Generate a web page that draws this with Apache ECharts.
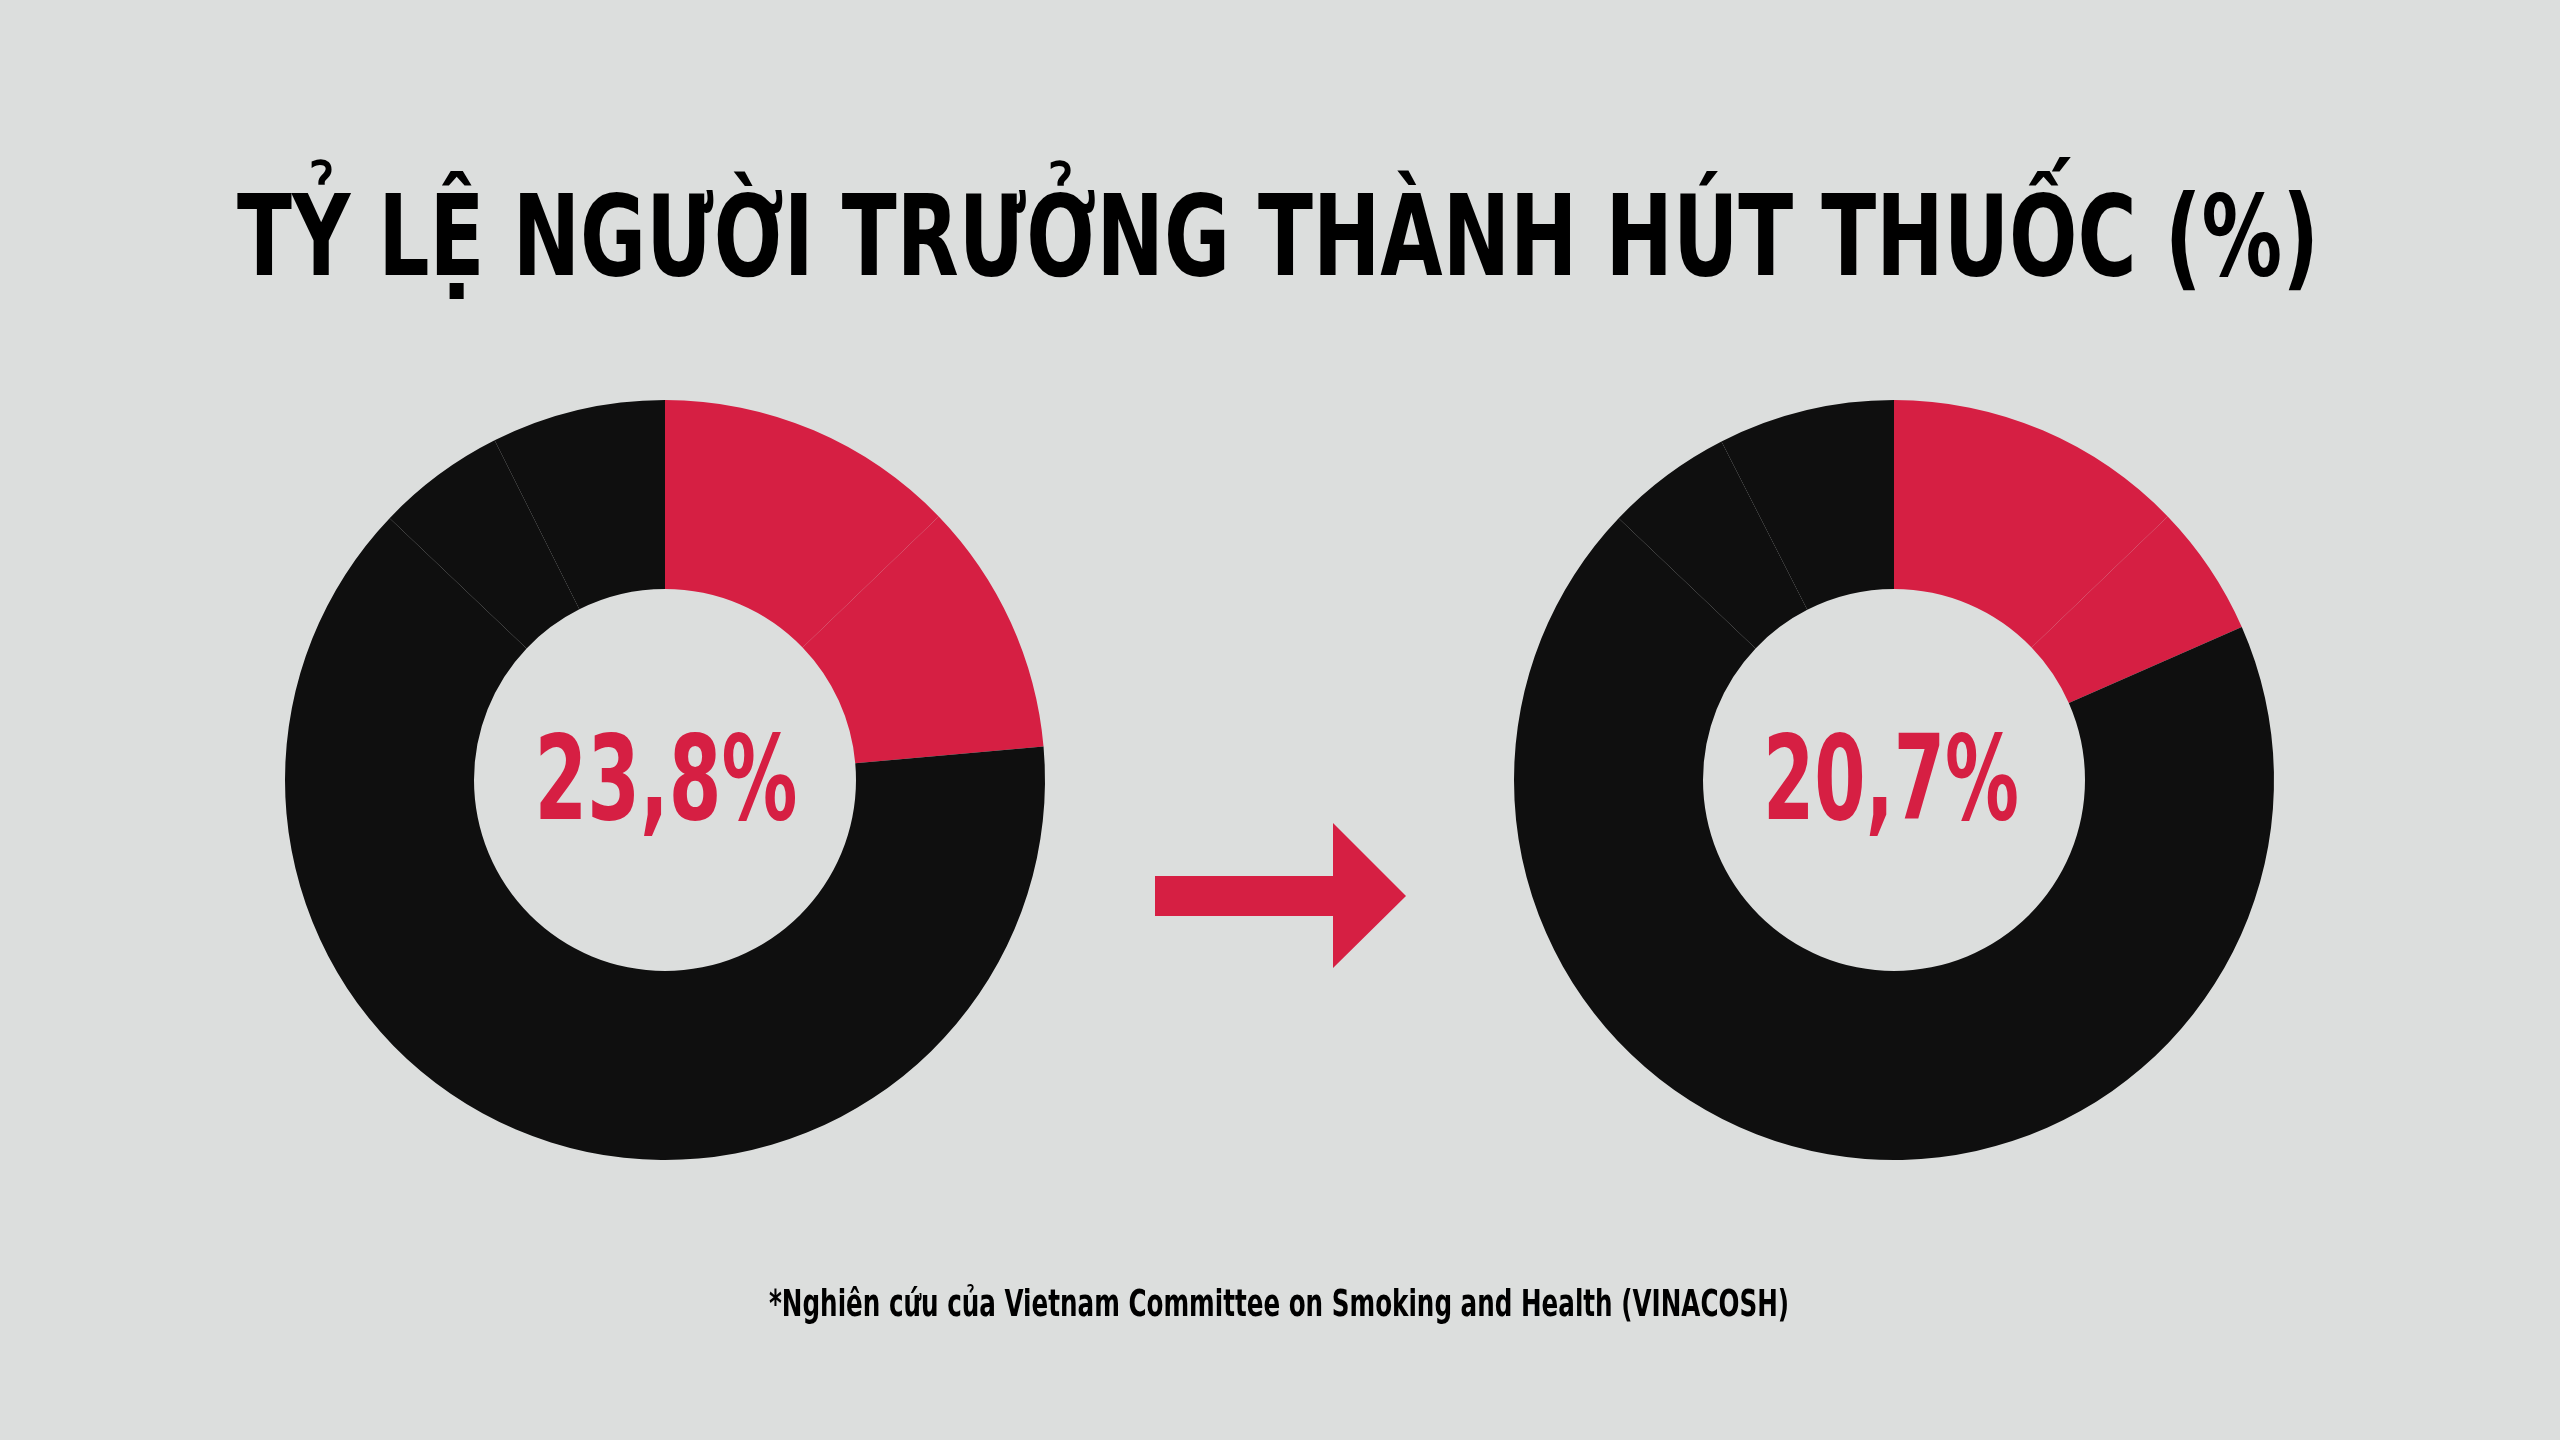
<!DOCTYPE html>
<html>
<head>
<meta charset="utf-8">
<script src="https://cdn.jsdelivr.net/npm/echarts@6/dist/echarts.min.js"></script>
<style>
html,body{margin:0;padding:0;background:#dcdedd;}
#c{width:2560px;height:1440px;}
</style>
</head>
<body>
<div id="c"></div>
<script>
// ---- data ----
const titleText = 'TỶ LỆ NGƯỜI TRƯỞNG THÀNH HÚT THUỐC (%)';
const footnoteText = '*Nghiên cứu của Vietnam Committee on Smoking and Health (VINACOSH)';
const centerLabels = ['23,8%', '20,7%'];
// slices of each ring, clockwise from 12 o'clock (percent of ring)
const leftSlices = [12.8, 10.8, 51.4, 12.1, 5.5, 7.4];
const rightSlices = [12.8, 5.6, 56.6, 12.1, 5.4, 7.5];
const sliceKinds = ['smoke', 'smoke', 'rest', 'rest', 'rest', 'rest'];

// ---- style ----
const RED = '#d61f43';
const BLACK = '#0f0f0f';
const BG = '#dcdedd';
const FONT = '"Liberation Sans Narrow", "DejaVu Sans Condensed", sans-serif';

const cv = document.createElement('canvas').getContext('2d');
function measure(text, font) { cv.font = font; return cv.measureText(text).width; }
function fitText(text, fontSize, weight, targetW, x, y, fill) {
  const font = weight + ' ' + fontSize + 'px ' + FONT;
  const w = measure(text, font);
  const s = targetW / w;
  return {
    type: 'text', x: x, y: y, scaleX: s, scaleY: 1, silent: true,
    style: { text: text, font: font, fill: fill, align: 'center', verticalAlign: 'middle' }
  };
}

const chart = echarts.init(document.getElementById('c'), null, { renderer: 'canvas' });

function ring(values, center) {
  return {
    type: 'pie',
    center: center,
    radius: [191, 380],
    startAngle: 90,
    clockwise: true,
    silent: true,
    animation: false,
    label: { show: false },
    labelLine: { show: false },
    emphasis: { disabled: true },
    itemStyle: { borderWidth: 0 },
    data: values.map((v, i) => ({
      value: v,
      itemStyle: { color: sliceKinds[i] === 'smoke' ? RED : BLACK }
    }))
  };
}

chart.setOption({
  backgroundColor: BG,
  animation: false,
  series: [
    ring(leftSlices, [665, 780]),
    ring(rightSlices, [1894, 780])
  ],
  graphic: [
    fitText(titleText, 113, 'bold', 2082, 1278, 246, '#000'),
    fitText(centerLabels[0], 118, 'bold', 263, 666, 788, RED),
    fitText(centerLabels[1], 118, 'bold', 256, 1891, 788, RED),
    fitText(footnoteText, 38, 'bold', 1020, 1279, 1306, '#000'),
    {
      type: 'polygon', silent: true,
      shape: { points: [[1155, 876], [1333, 876], [1333, 823], [1406, 896], [1333, 968], [1333, 916], [1155, 916]] },
      style: { fill: RED }
    }
  ]
});
</script>
</body>
</html>
